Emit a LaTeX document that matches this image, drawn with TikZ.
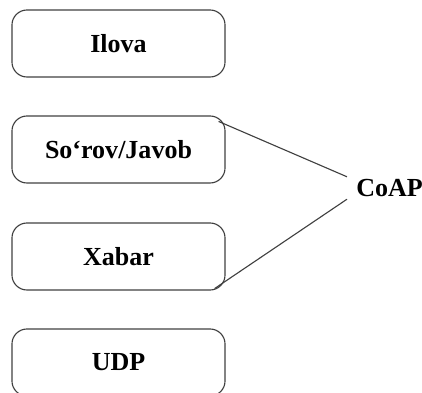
\documentclass[tikz,border=0pt]{standalone}
\usepackage{fontspec}
\setmainfont{Liberation Serif}
\begin{document}
\begin{tikzpicture}[x=0.025cm,y=-0.025cm,
    layer/.style={draw=black!75,line width=0.8pt,rounded corners=0.375cm,
      minimum width=5.325cm,minimum height=1.675cm,inner sep=0pt,
      font=\fontsize{18.5}{22}\selectfont\bfseries}]
      \useasboundingbox (0,0) rectangle (422,393);

      % Protocol stack
      \node[layer] (ilova) at (118.5,43.5) {Ilova};
      \node[layer] (sorov) at (118.5,149.5) {So‘rov/Javob};
      \node[layer] (xabar) at (118.5,256.5) {Xabar};
      \node[layer] (udp) at (118.5,362.5) {UDP};

      % CoAP covers the two middle layers
      \node[font=\fontsize{18.5}{22}\selectfont\bfseries,inner xsep=0.225cm,inner ysep=0.055cm] (coap) at (389.5,188) {CoAP};
      \draw[black!75,line width=0.8pt] ([xshift=-0.175cm,yshift=-0.15cm]sorov.north east)--(coap.north west);
      \draw[black!75,line width=0.8pt] ([xshift=-0.275cm,yshift=0.05cm]xabar.south east)--(coap.south west);
    \end{tikzpicture}
\end{document}
